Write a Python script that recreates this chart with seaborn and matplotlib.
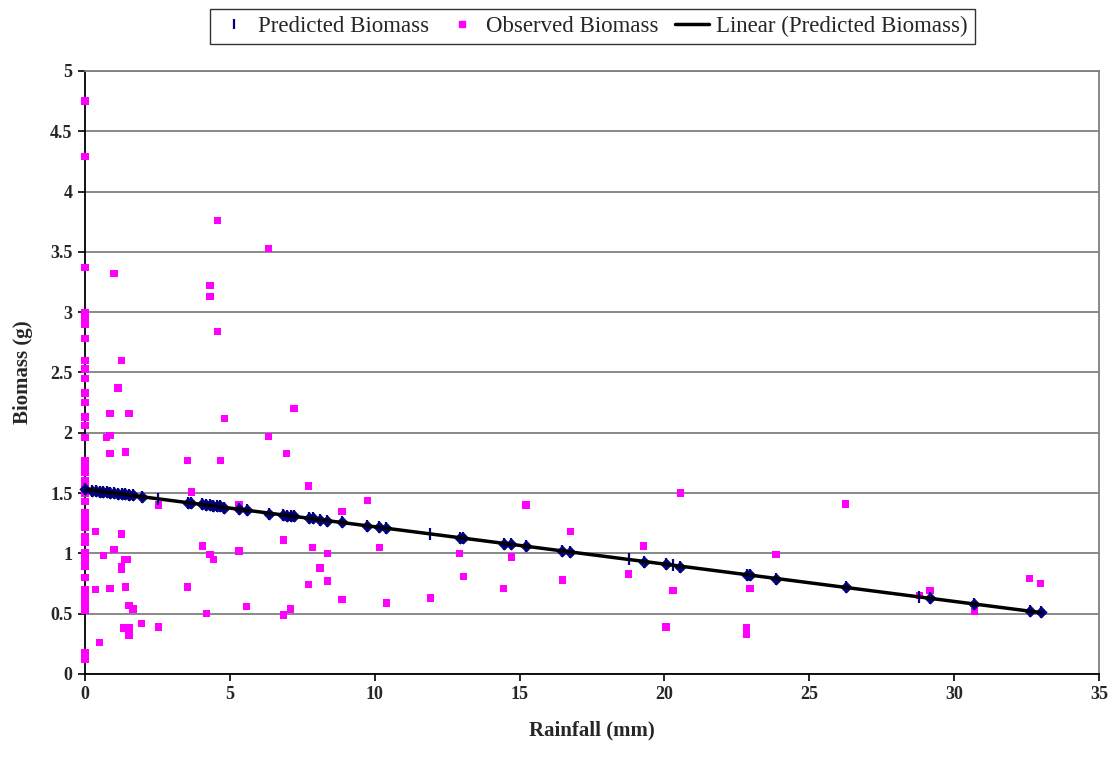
import numpy as np
import pandas as pd
import matplotlib
matplotlib.use("Agg")
import matplotlib.pyplot as plt
import seaborn as sns
from matplotlib.lines import Line2D

# observed biomass (magenta squares)
obs_rain = [0]*37 + [
    4.57, 1.0, 4.31, 4.31, 4.57, 1.27, 1.14, 0.86, 1.52, 4.81, 0.86, 0.75, 0.86, 1.39,
    3.54, 4.67, 3.67, 2.53, 5.32, 0.37, 1.27, 4.05, 1.0, 5.32, 0.63, 4.31, 1.36, 1.47,
    4.43, 1.27, 1.27, 0.37, 0.86, 1.39, 3.54, 1.52, 1.66, 5.58, 4.19, 1.96, 1.32, 1.52,
    2.53, 1.52, 0.49,
    6.34, 7.21, 6.34, 6.96, 7.72, 9.75, 8.87, 6.96, 6.85, 7.86, 10.16, 8.36, 8.11, 8.36,
    7.72, 8.87, 10.4, 11.92, 7.1, 6.85,
    15.22, 16.75, 12.93, 14.72, 19.28, 13.06, 16.48, 14.45, 18.77, 20.05,
    20.55, 26.26, 23.85, 20.3, 22.95, 32.61, 32.99, 29.17, 28.8, 30.7, 22.84, 22.84]
obs_biomass = [
    4.75, 4.29, 3.37, 3.0, 2.95, 2.90, 2.78, 2.60, 2.53, 2.45, 2.33, 2.25, 2.13, 2.06,
    1.96, 1.77, 1.72, 1.67, 1.55, 1.50, 1.43, 1.34, 1.28, 1.22, 1.14, 1.09, 1.01, 0.95,
    0.89, 0.80, 0.70, 0.64, 0.59, 0.53, 0.18, 0.12, 1.60,
    3.76, 3.32, 3.22, 3.13, 2.84, 2.60, 2.37, 2.16, 2.16, 2.12, 1.98, 1.96, 1.83, 1.84,
    1.77, 1.77, 1.51, 1.40, 1.40, 1.18, 1.16, 1.06, 1.03, 1.02, 0.98, 0.99, 0.95, 0.95,
    0.95, 0.89, 0.87, 0.70, 0.71, 0.72, 0.72, 0.57, 0.54, 0.56, 0.50, 0.42, 0.38, 0.38,
    0.39, 0.32, 0.26,
    3.53, 2.20, 1.97, 1.83, 1.56, 1.44, 1.35, 1.30, 1.11, 1.05, 1.05, 1.00, 0.88, 0.77,
    0.74, 0.62, 0.59, 0.63, 0.54, 0.49,
    1.40, 1.18, 1.00, 0.97, 1.06, 0.81, 0.78, 0.71, 0.83, 0.39,
    1.50, 1.41, 0.99, 0.69, 0.71, 0.79, 0.75, 0.69, 0.65, 0.52, 0.38, 0.33]

# predicted biomass, drawn as diamonds
pred_rain = [0, 0.25, 0.37, 0.5, 0.63, 0.75, 0.86, 1.0, 1.14, 1.27, 1.39, 1.52, 1.66, 1.96,
             3.54, 3.67, 4.05, 4.19, 4.31, 4.43, 4.57, 4.67, 4.81, 5.32, 5.58, 6.34, 6.85,
             6.96, 7.1, 7.21, 7.72, 7.86, 8.11, 8.36, 8.87, 9.75, 10.16, 10.4, 12.93, 13.06,
             14.45, 14.72, 15.22, 16.48, 16.75, 19.28, 20.05, 20.55, 22.84, 22.95, 23.85,
             26.26, 29.17, 30.7, 32.61, 32.99]
pred_biomass = [1.53, 1.52, 1.52, 1.51, 1.51, 1.51, 1.50, 1.50, 1.49, 1.49, 1.49, 1.48, 1.48,
                1.47, 1.42, 1.42, 1.41, 1.40, 1.40, 1.39, 1.39, 1.39, 1.38, 1.37, 1.36, 1.33,
                1.32, 1.31, 1.31, 1.31, 1.29, 1.29, 1.28, 1.27, 1.26, 1.23, 1.22, 1.21, 1.13,
                1.13, 1.08, 1.08, 1.06, 1.02, 1.01, 0.93, 0.91, 0.89, 0.82, 0.82, 0.79, 0.72,
                0.63, 0.58, 0.52, 0.51]
# predicted points showing only the dash marker
tick_rain = [2.53, 11.92, 18.77, 20.3, 28.8]
tick_biomass = [1.45, 1.16, 0.95, 0.90, 0.64]

obs = pd.DataFrame({'Rainfall': obs_rain, 'Biomass': obs_biomass})
pred = pd.DataFrame({'Rainfall': pred_rain + tick_rain, 'Biomass': pred_biomass + tick_biomass})

# linear trendline of predicted biomass
slope, intercept = np.polyfit(pred['Rainfall'], pred['Biomass'], 1)
trend = pd.DataFrame({'Rainfall': [0, max(pred_rain)]})
trend['Biomass'] = intercept + slope * trend['Rainfall']

sns.set_style('white')
plt.rcParams['font.family'] = ['Liberation Serif', 'DejaVu Serif']

fig = plt.figure(figsize=(11.13, 7.59), dpi=100)
ax = fig.add_axes([0.0764, 0.112, 0.911, 0.7945])

navy = '#000080'
magenta = '#FF00FF'

sns.scatterplot(x='Rainfall', y='Biomass', data=obs, ax=ax, marker='s', s=28,
                color=magenta, edgecolor='none', zorder=3, clip_on=False)
sns.scatterplot(x=pred_rain, y=pred_biomass, ax=ax, marker='D', s=32,
                color=navy, edgecolor=navy, linewidth=0.6, zorder=4, clip_on=False)
sns.scatterplot(x='Rainfall', y='Biomass', data=pred, ax=ax, marker='|', s=70,
                color=navy, linewidth=1.6, zorder=4, clip_on=False)
sns.lineplot(x='Rainfall', y='Biomass', data=trend, ax=ax, color='black', linewidth=2.5,
             zorder=5)

ax.set_xlim(0, 35)
ax.set_ylim(0, 5)
ax.set_xticks(np.arange(0, 36, 5))
ax.set_yticks(np.arange(0, 5.01, 0.5))
ax.set_yticklabels(['0', '0.5', '1', '1.5', '2', '2.5', '3', '3.5', '4', '4.5', '5'])
ax.yaxis.grid(True, color='#808080', linewidth=1.3)
ax.xaxis.grid(False)
ax.set_axisbelow(True)

for side in ['left', 'bottom']:
    ax.spines[side].set_color('black')
    ax.spines[side].set_linewidth(1.3)
for side in ['right', 'top']:
    ax.spines[side].set_color('#808080')
    ax.spines[side].set_linewidth(1.3)

ax.tick_params(axis='both', which='major', direction='out', length=5, width=1.2,
               color='black', labelsize=13, pad=4, left=True, bottom=True)
for lbl in ax.get_xticklabels() + ax.get_yticklabels():
    lbl.set_fontweight('bold')

ax.set_xlabel('Rainfall (mm)', fontsize=15, fontweight='bold', labelpad=12)
ax.set_ylabel('Biomass (g)', fontsize=15, fontweight='bold', labelpad=12)

handles = [
    Line2D([], [], linestyle='none', marker='|', color=navy, markersize=7, markeredgewidth=1.6),
    Line2D([], [], linestyle='none', marker='s', color=magenta, markersize=5),
    Line2D([], [], color='black', linewidth=2.5),
]
labels = ['Predicted Biomass', 'Observed Biomass', 'Linear (Predicted Biomass)']
leg = fig.legend(handles, labels, loc='upper center', bbox_to_anchor=(0.532, 1.0),
                 ncol=3, fontsize=16.5, frameon=True, fancybox=False, edgecolor='black',
                 handlelength=1.5, handletextpad=0.3, columnspacing=0.7, borderpad=0.3,
                 borderaxespad=0.4)
leg.get_frame().set_linewidth(1.0)

fig.savefig('out.png', dpi=100)
